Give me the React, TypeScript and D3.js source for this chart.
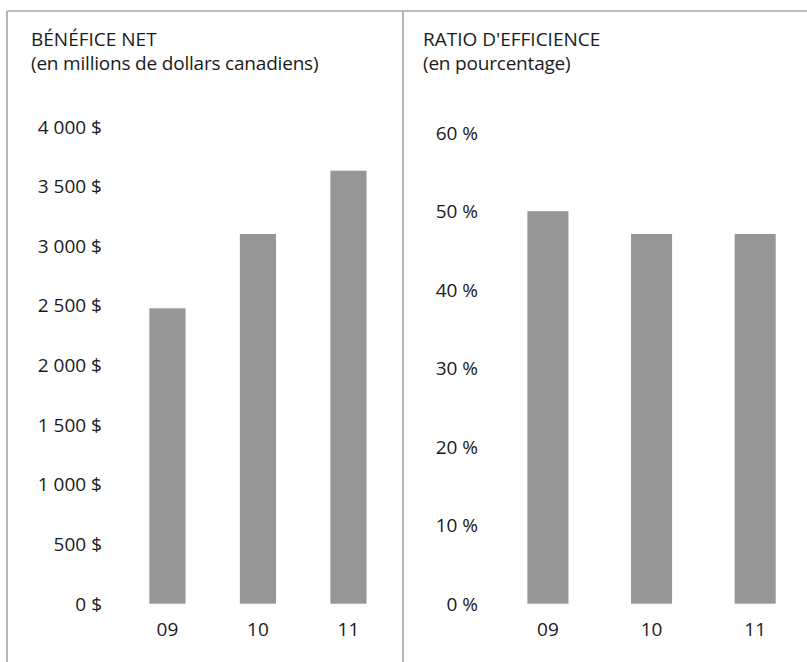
import React from "react";
import * as d3 from "d3";

const years = ["09", "10", "11"];
const netIncome = [2477, 3100, 3631];
const efficiency = [50.0, 47.1, 47.1];
const incomeTicks = [0, 500, 1000, 1500, 2000, 2500, 3000, 3500, 4000];
const effTicks = [0, 10, 20, 30, 40, 50, 60];

const W = 807;
const H = 662;
const FONT = "'Open Sans', 'Noto Sans', sans-serif";
const TEXT = "#1a1a1a";
const BAR = "#969696";
const BORDER = "#a6a6a6";
const FS = 19;
const FW = 400;

const fmtMoney = (v: number) => d3.format(",")(v).replace(/,/g, " ") + " $";
const fmtPct = (v: number) => `${v} %`;

export default function App() {
  const base = 603.7;
  const yL = d3.scaleLinear().domain([0, 4000]).range([base, 126.7]);
  const xL = d3.scaleBand<string>().domain(years).range([122.2, 393.7]).paddingInner(0.6).paddingOuter(0.3);
  const yR = d3.scaleLinear().domain([0, 60]).range([base, base - 6 * 78.5]);
  const xR = d3.scaleBand<string>().domain(years).range([496.3, 806.8]).paddingInner(0.604).paddingOuter(0.3);

  return (
    <svg
      width={W}
      height={H}
      style={{ position: "absolute", left: 0, top: 0, background: "#fff" }}
      fontFamily={FONT}
      fontWeight={FW}
      fontSize={FS}
    >
      <line x1={7} y1={11} x2={W} y2={11} stroke={BORDER} strokeWidth={1.6} />
      <line x1={7} y1={11} x2={7} y2={H} stroke={BORDER} strokeWidth={1.6} />
      <line x1={403} y1={11} x2={403} y2={H} stroke={BORDER} strokeWidth={1.6} />

      <text x={31} y={46} fill={TEXT}>BÉNÉFICE NET</text>
      <text x={31} y={70} fill={TEXT} letterSpacing={-0.2}>(en millions de dollars canadiens)</text>

      <text x={423} y={46} fill={TEXT}>RATIO D'EFFICIENCE</text>
      <text x={423} y={70} fill={TEXT} letterSpacing={-0.2}>(en pourcentage)</text>

      {incomeTicks.map((t) => (
        <text key={t} x={102} y={yL(t)} dy="0.36em" textAnchor="end" fill={TEXT}>
          {fmtMoney(t)}
        </text>
      ))}
      {years.map((yr, i) => (
        <rect key={yr} x={xL(yr)!} y={yL(netIncome[i])} width={xL.bandwidth()} height={base - yL(netIncome[i])} fill={BAR} />
      ))}
      {years.map((yr) => (
        <text key={yr} x={xL(yr)! + xL.bandwidth() / 2} y={636} textAnchor="middle" fill={TEXT}>
          {yr}
        </text>
      ))}

      {effTicks.map((t) => (
        <text key={t} x={478} y={yR(t)} dy="0.36em" textAnchor="end" fill={TEXT}>
          {fmtPct(t)}
        </text>
      ))}
      {years.map((yr, i) => (
        <rect key={yr} x={xR(yr)!} y={yR(efficiency[i])} width={xR.bandwidth()} height={base - yR(efficiency[i])} fill={BAR} />
      ))}
      {years.map((yr) => (
        <text key={yr} x={xR(yr)! + xR.bandwidth() / 2} y={636} textAnchor="middle" fill={TEXT}>
          {yr}
        </text>
      ))}
    </svg>
  );
}
